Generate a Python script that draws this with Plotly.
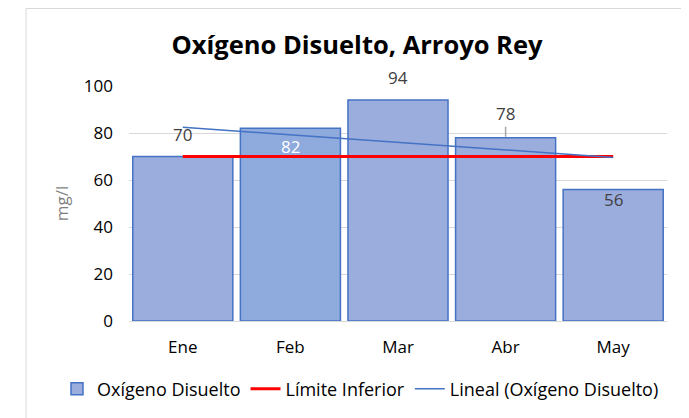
import numpy as np
import plotly.graph_objects as go

months = ["Ene", "Feb", "Mar", "Abr", "May"]
oxigeno = [70, 82, 94, 78, 56]
limite = [70, 70, 70, 70, 70]
y_ticks = [0, 20, 40, 60, 80, 100]

# linear trendline (Excel "Lineal")
xi = np.arange(1, len(oxigeno) + 1)
slope, intercept = np.polyfit(xi, oxigeno, 1)
trend = list(slope * xi + intercept)

FONT = "Open Sans"
bar_colors = ["#9AADDD", "#8FAADC", "#9AADDD", "#9AADDD", "#9AADDD"]

fig = go.Figure()
fig.add_trace(go.Bar(
    x=months, y=oxigeno, name="Oxígeno Disuelto",
    marker=dict(color=bar_colors, line=dict(color="#4472C4", width=1.5)),
))
fig.add_trace(go.Scatter(
    x=months, y=limite, name="Límite Inferior", mode="lines",
    line=dict(color="#FF0000", width=3),
))
fig.add_trace(go.Scatter(
    x=months, y=trend, name="Lineal (Oxígeno Disuelto)", mode="lines",
    line=dict(color="#4472C4", width=1.5),
))

# data labels
label_shift = [22, -18, 23, 0, -10]
label_color = ["#404040", "#FFFFFF", "#404040", "#404040", "#404040"]
for i, (m, v) in enumerate(zip(months, oxigeno)):
    if m == "Abr":
        fig.add_annotation(x=m, y=v, text=str(v), showarrow=True, arrowhead=0,
                           ax=0, ay=-24, arrowcolor="#A6A6A6", arrowwidth=1.5,
                           standoff=1, font=dict(family=FONT, size=17, color=label_color[i]))
    else:
        fig.add_annotation(x=m, y=v, text=str(v), showarrow=False, yshift=label_shift[i],
                           font=dict(family=FONT, size=17, color=label_color[i]))

# page offset (body margin) compensation
OFF = 8
W, H = 689 - OFF, 418 - OFF
L, T = 129 - OFF, 86 - OFF
pw, ph = 538, 235
R, B = W - L - pw, H - T - ph

def px_x(sx):  # screenshot x -> paper x
    return (sx - OFF - L) / pw

def px_y(sy):  # screenshot y -> paper y
    return (T + ph - (sy - OFF)) / ph

# chart outer border
fig.add_shape(type="rect", xref="paper", yref="paper",
              x0=px_x(26), x1=px_x(688), y0=px_y(460), y1=px_y(8.5),
              line=dict(color="#D9D9D9", width=1), fillcolor="rgba(0,0,0,0)", layer="below")

fig.update_layout(
    width=W, height=H,
    margin=dict(l=L, r=R, t=T, b=B, autoexpand=False),
    paper_bgcolor="white", plot_bgcolor="white",
    bargap=0.07,
    title=dict(text="<b>Oxígeno Disuelto, Arroyo Rey</b>", x=(357 - OFF) / W, xanchor="center",
               y=1 - (45 - OFF) / H, yanchor="middle", xref="container", yref="container",
               font=dict(family=FONT, size=25.5, color="#000000"), automargin=False),
    font=dict(family=FONT, size=17, color="#000000"),
    xaxis=dict(showgrid=False, showline=True, linecolor="#D9D9D9", linewidth=1,
               ticks="", automargin=False, ticklabelstandoff=11,
               tickfont=dict(family=FONT, size=17, color="#000000")),
    yaxis=dict(range=[0, 100], tickvals=y_ticks, showgrid=True, gridcolor="#D9D9D9",
               gridwidth=1, zeroline=False, showline=False, ticks="", automargin=False,
               ticklabelstandoff=15,
               tickfont=dict(family=FONT, size=17, color="#000000"),
               title=dict(text="mg/l", font=dict(family=FONT, size=17, color="#7F7F7F"),
                          standoff=10)),
    legend=dict(orientation="h", x=px_x(57), xanchor="left",
                y=px_y(389), yanchor="middle",
                font=dict(family=FONT, size=18, color="#000000"),
                tracegroupgap=0, borderwidth=0),
    showlegend=True,
)

fig.write_html("out.html")
